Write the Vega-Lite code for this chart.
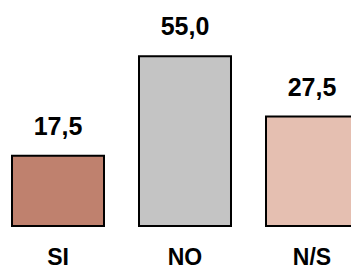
{
  "$schema": "https://vega.github.io/schema/vega-lite/v6.json",
  "width": 351,
  "height": 226,
  "padding": {"left": 0, "top": 0, "right": 0, "bottom": 44},
  "autosize": {"type": "none"},
  "background": "white",
  "config": {
    "view": {"stroke": null},
    "locale": {"number": {"decimal": ",", "thousands": ".", "grouping": [3], "currency": ["", " €"]}}
  },
  "data": {
    "values": [
      {"categoria": "SI", "valor": 17.5},
      {"categoria": "NO", "valor": 55.0},
      {"categoria": "N/S", "valor": 27.5}
    ]
  },
  "encoding": {
    "x": {
      "field": "categoria",
      "type": "nominal",
      "sort": null,
      "scale": {"range": [0, 370], "paddingInner": 0.2756, "paddingOuter": 0.0945},
      "axis": {
        "title": null,
        "domain": false,
        "ticks": false,
        "tickSize": 0,
        "labelAngle": 0,
        "labelPadding": 38,
        "labelBaseline": "alphabetic",
        "labelFont": "Liberation Sans",
        "labelFontWeight": "bold",
        "labelFontSize": 23,
        "labelColor": "#000000"
      }
    },
    "y": {
      "field": "valor",
      "type": "quantitative",
      "scale": {"type": "log", "domain": [7.8, 105.2]},
      "axis": null
    }
  },
  "layer": [
    {
      "mark": {"type": "bar", "stroke": "#000000", "strokeWidth": 2},
      "encoding": {
        "y2": {"datum": 7.8},
        "color": {
          "field": "categoria",
          "type": "nominal",
          "sort": null,
          "scale": {"domain": ["SI", "NO", "N/S"], "range": ["#BF816E", "#C4C4C4", "#E5BFB1"]},
          "legend": null
        }
      }
    },
    {
      "mark": {"type": "text", "baseline": "alphabetic", "dy": -21, "font": "Liberation Sans", "fontWeight": "bold", "fontSize": 25, "color": "#000000"},
      "encoding": {
        "text": {"field": "valor", "type": "quantitative", "format": ".1f"}
      }
    }
  ]
}
